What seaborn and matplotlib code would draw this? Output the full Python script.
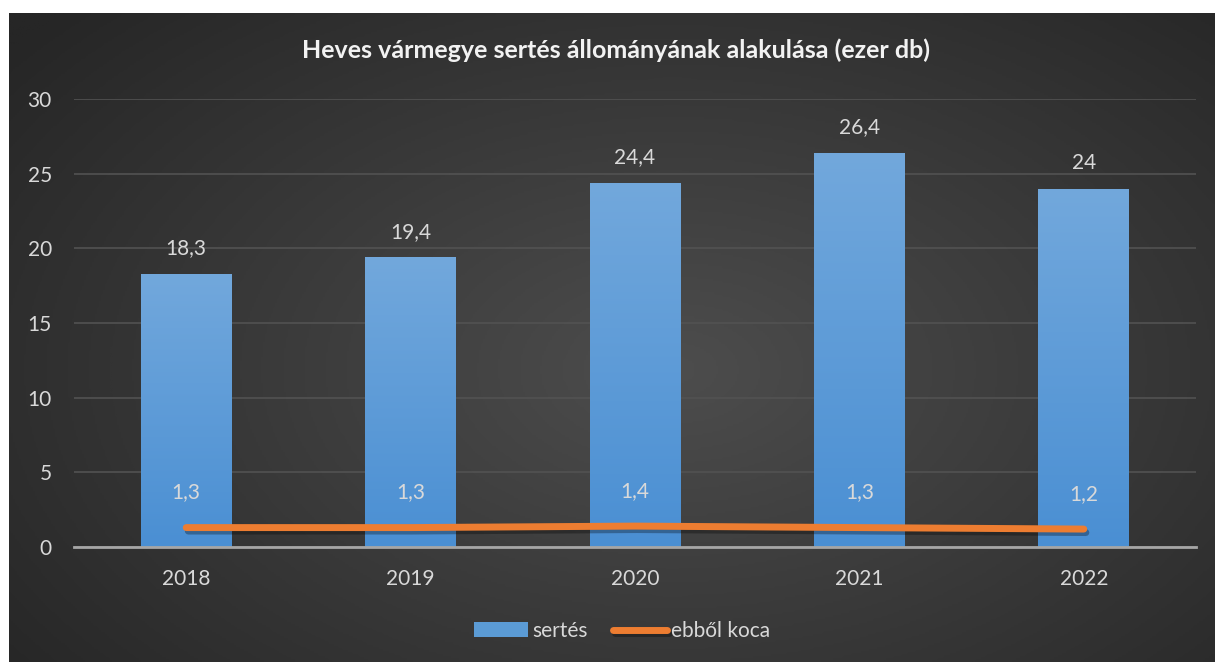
import numpy as np
import pandas as pd
import matplotlib
matplotlib.use('Agg')
import matplotlib.pyplot as plt
import matplotlib.patheffects as pe
from matplotlib.colors import LinearSegmentedColormap
import seaborn as sns

# data (ezer db)
years = ['2018', '2019', '2020', '2021', '2022']
sertes = [18.3, 19.4, 24.4, 26.4, 24.0]
koca = [1.3, 1.3, 1.4, 1.3, 1.2]
title = 'Heves vármegye sertés állományának alakulása (ezer db)'

sns.set_theme(style='dark')
plt.rcParams['font.family'] = ['Lato', 'DejaVu Sans']

TXT = '#d9d9d9'
BLUE = '#5b9bd5'
ORANGE = '#ED7D31'


def fmt(v):
    return f'{v:g}'.replace('.', ',')


df = pd.DataFrame({'ev': years, 'sertes': sertes, 'koca': koca,
                   'pos': range(len(years))})

fig = plt.figure(figsize=(12.15, 6.62), dpi=100, facecolor='white')

# dark radial background of the chart area
bg = fig.add_axes([9 / 1215, 0, 1 - 9 / 1215, 1 - 13 / 662])
yy, xx = np.mgrid[1:0:300j, 0:1:600j]
r = np.sqrt(((xx - 0.55) / 0.7) ** 2 + ((yy - 0.45) / 0.8) ** 2)
bg_cmap = LinearSegmentedColormap.from_list('bg', ['#4d4d4d', '#262626'])
bg.imshow(np.clip(r, 0, 1), cmap=bg_cmap, aspect='auto',
          extent=[0, 1, 0, 1], vmin=0, vmax=1)
bg.axis('off')

ax = fig.add_axes([74 / 1215, 1 - 547 / 662, 1122 / 1215, 448 / 662])
ax.set_facecolor('none')

sns.barplot(data=df, x='ev', y='sertes', color=BLUE, saturation=1,
            width=0.405, ax=ax, label='sertés', zorder=2,
            edgecolor='none', linewidth=0)

sns.lineplot(data=df, x='pos', y='koca', color=ORANGE, linewidth=5,
             ax=ax, label='ebből koca', solid_capstyle='round', zorder=4,
             path_effects=[pe.SimpleLineShadow(offset=(1.5, -2.5), shadow_color='black', alpha=0.3),
                           pe.Normal()])

# vertical gradient inside every bar
bar_cmap = LinearSegmentedColormap.from_list('bar', ['#4a8fd3', '#72a8dc'])
grad = np.linspace(0, 1, 256).reshape(-1, 1)
for p in ax.patches:
    x0, w, h = p.get_x(), p.get_width(), p.get_height()
    im = ax.imshow(grad, cmap=bar_cmap, origin='lower', aspect='auto',
                   extent=[x0, x0 + w, 0, h], zorder=2.5)
    im.set_clip_path(p)

ax.set_xlim(-0.5, len(years) - 0.5)
ax.set_ylim(0, 30)
ax.set_yticks(range(0, 31, 5))
ax.set_xticks(range(len(years)))
ax.set_xticklabels(years)
ax.set_xlabel('')
ax.set_ylabel('')

ax.yaxis.grid(True, color='#525252', linewidth=1.2, zorder=0)
ax.xaxis.grid(False)
for s in ['left', 'right', 'top']:
    ax.spines[s].set_visible(False)
ax.spines['bottom'].set_color('#a6a6a6')
ax.spines['bottom'].set_linewidth(2)
ax.spines['bottom'].set_zorder(3)
ax.tick_params(axis='both', colors=TXT, labelsize=15, length=0)
ax.tick_params(axis='x', pad=16)
ax.tick_params(axis='y', pad=16)

# data labels
for i, v in enumerate(sertes):
    ax.annotate(fmt(v), (i, v), xytext=(0, 11), textcoords='offset points',
                ha='center', va='bottom', fontsize=15, color=TXT)
for i, v in enumerate(koca):
    ax.annotate(fmt(v), (i, v), xytext=(0, 18), textcoords='offset points',
                ha='center', va='bottom', fontsize=15, color=TXT, zorder=5)

fig.text(616 / 1215, 1 - 50 / 662, title, ha='center', va='center',
         fontsize=18, fontweight='bold', color='#f2f2f2')

handles, labels = ax.get_legend_handles_labels()
order = [labels.index('sertés'), labels.index('ebből koca')]
if ax.get_legend() is not None:
    ax.get_legend().remove()
fig.legend([handles[k] for k in order], [labels[k] for k in order],
           loc='center', bbox_to_anchor=(0.512, 1 - 631 / 662),
           ncol=2, frameon=False, fontsize=15, labelcolor=TXT,
           handlelength=2.6, handletextpad=0.2, columnspacing=1.2)

fig.savefig('out.png', dpi=100, facecolor='white')
